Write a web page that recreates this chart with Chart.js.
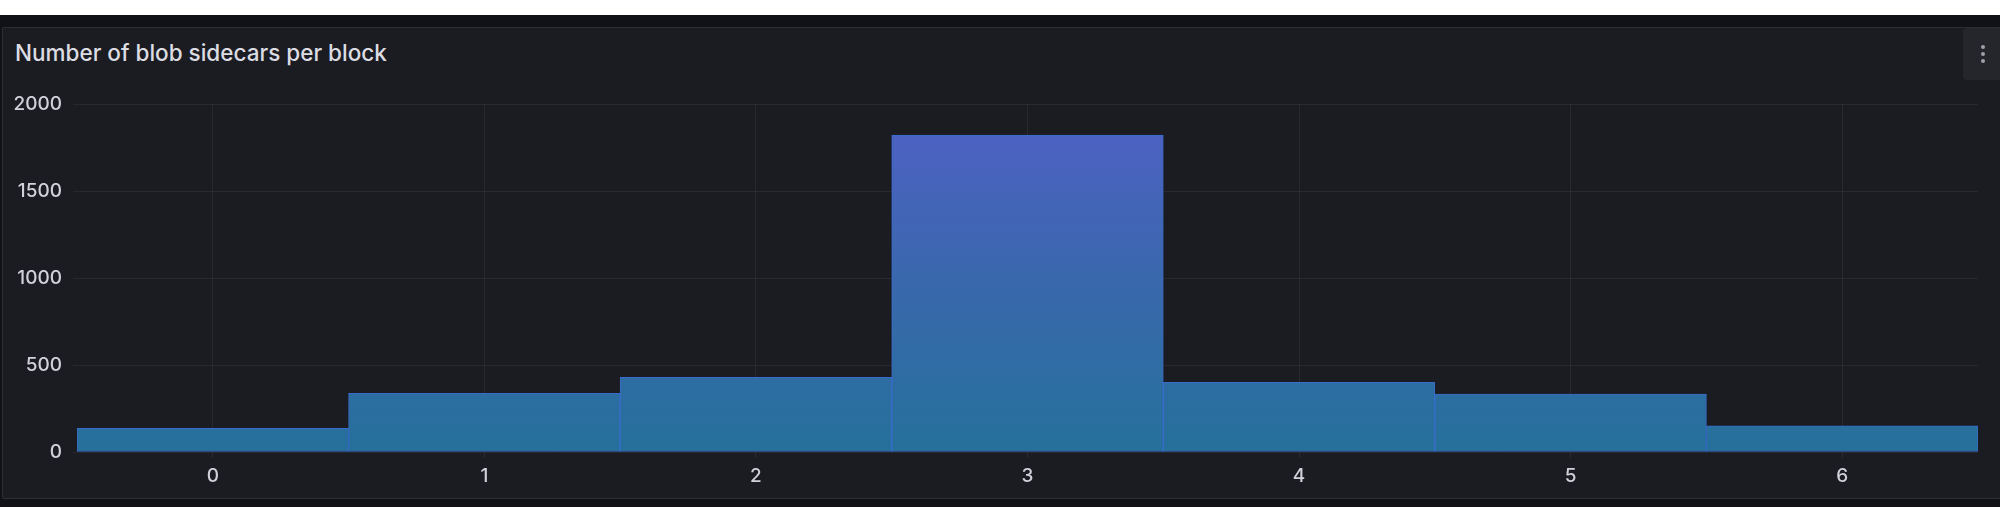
<!DOCTYPE html>
<html>
<head>
<meta charset="utf-8">
<script src="https://cdn.jsdelivr.net/npm/chart.js@4.4.1/dist/chart.umd.min.js"></script>
<style>
    html, body { margin: 0; padding: 0; }
    body {
        width: 2000px; height: 515px; overflow: hidden; position: relative;
        background: #ffffff; font-family: Inter, "Noto Sans", sans-serif;
    }
    .canvas-bg { position: absolute; left: 0; top: 15px; width: 2000px; height: 492px; background: #111217; }
    .panel {
        position: absolute; left: 2px; top: 27px; width: 2010px; height: 470px;
        background: #1b1c21; border: 1px solid rgba(204, 204, 220, 0.10); border-radius: 2px;
    }
    .title {
        position: absolute; left: 15px; top: 39px; color: #dcdde3;
        font-size: 22.5px; font-weight: 500; white-space: nowrap;
    }
    .menu {
        position: absolute; left: 1963px; top: 28px; width: 40px; height: 52px;
        background: #25262b; border-radius: 4px;
    }
    .menu span { position: absolute; left: 18px; width: 4px; height: 4px; border-radius: 2px; background: #9fa0a8; }
    canvas { position: absolute; left: 0; top: 0; }
</style>
</head>
<body>
<div class="canvas-bg"></div>
<div class="panel"></div>
<div class="title">Number of blob sidecars per block</div>
<div class="menu"><span style="top:17px"></span><span style="top:24px"></span><span style="top:31px"></span></div>
<canvas id="blobChart" width="2000" height="515"></canvas>
<script>
// blob sidecar count per block -> number of blocks
const categories = ['0', '1', '2', '3', '4', '5', '6'];
const blockCounts = [136, 337, 429, 1822, 400, 333, 151];
const yTicks = [0, 500, 1000, 1500, 2000];

const tickColor = '#d0d1d9';
const gridColor = 'rgba(204, 204, 220, 0.08)';
const tickFont = { family: 'Inter', size: 19, weight: '500' };

function barGradient(context) {
    const chart = context.chart;
    const area = chart.chartArea;
    if (!area) return '#2a6d9e';
    const g = chart.ctx.createLinearGradient(0, area.bottom, 0, area.top);
    g.addColorStop(0, '#25709b');
    g.addColorStop(0.5, '#3a68ad');
    g.addColorStop(1, '#5060c6');
    return g;
}

const ctx = document.getElementById('blobChart').getContext('2d');
new Chart(ctx, {
    type: 'bar',
    data: {
        labels: categories,
        datasets: [{
            data: blockCounts,
            backgroundColor: barGradient,
            borderColor: 'rgba(58, 112, 214, 0.95)',
            borderWidth: 1,
            borderSkipped: false,
            barPercentage: 1,
            categoryPercentage: 1
        }]
    },
    options: {
        responsive: false,
        animation: false,
        layout: { padding: { left: 0, right: 22, top: 104, bottom: 0 } },
        plugins: { legend: { display: false }, tooltip: { enabled: false } },
        scales: {
            x: {
                grid: { color: gridColor, offset: false, tickLength: 6, drawTicks: true },
                border: { display: false },
                ticks: { color: tickColor, font: tickFont, padding: 7 },
                afterFit: scale => { scale.height = 63; }
            },
            y: {
                min: 0,
                max: 2000,
                afterBuildTicks: scale => { scale.ticks = yTicks.map(v => ({ value: v })); },
                grid: { color: gridColor, tickLength: 4 },
                border: { display: false },
                ticks: { color: tickColor, font: tickFont, padding: 11, callback: v => String(v) },
                afterFit: scale => { scale.width = 77; }
            }
        }
    }
});
</script>
</body>
</html>
